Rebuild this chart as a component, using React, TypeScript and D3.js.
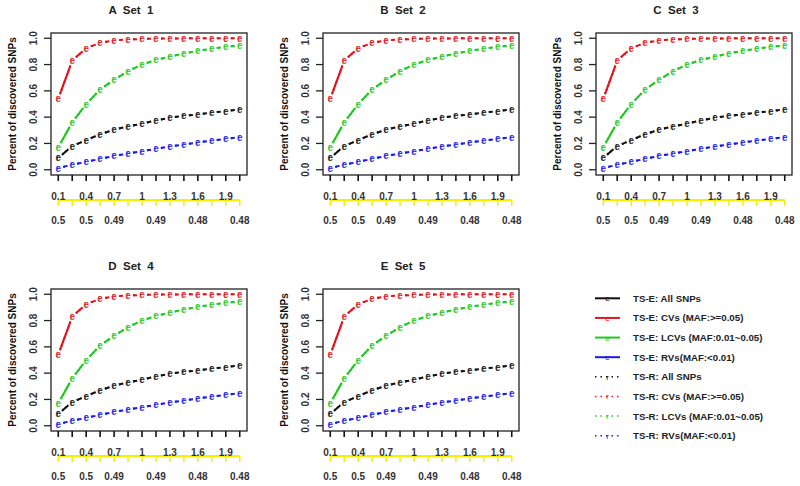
import React from "react";
import * as d3 from "d3";

const xVals = [0.1, 0.25, 0.4, 0.55, 0.7, 0.85, 1.0, 1.15, 1.3, 1.45, 1.6, 1.75, 1.9, 2.05];
const axis1Labels = ["0.1", "", "0.4", "", "0.7", "", "1", "", "1.3", "", "1.6", "", "1.9", ""];
const axis2Labels = ["0.5", "", "0.5", "", "0.49", "", "", "0.49", "", "", "0.48", "", "", "0.48"];
const yTicks = [0, 0.2, 0.4, 0.6, 0.8, 1.0];
const yTickLabels = ["0.0", "0.2", "0.4", "0.6", "0.8", "1.0"];

// TS-E values
const allSNPsE = [0.09, 0.18, 0.225, 0.27, 0.305, 0.33, 0.35, 0.375, 0.395, 0.41, 0.42, 0.435, 0.445, 0.46];
const cvsE = [0.54, 0.83, 0.925, 0.965, 0.985, 0.99, 0.995, 0.997, 0.998, 0.999, 1, 1, 1, 1];
const lcvsE = [0.17, 0.36, 0.5, 0.61, 0.685, 0.75, 0.8, 0.835, 0.86, 0.885, 0.905, 0.92, 0.935, 0.945];
const rvsE = [0.013, 0.038, 0.06, 0.083, 0.105, 0.123, 0.142, 0.158, 0.177, 0.192, 0.208, 0.222, 0.235, 0.248];
// TS-R values (overlap TS-E)
const allSNPsR = [0.09, 0.18, 0.225, 0.27, 0.305, 0.33, 0.35, 0.375, 0.395, 0.41, 0.42, 0.435, 0.445, 0.46];
const cvsR = [0.54, 0.83, 0.925, 0.965, 0.985, 0.99, 0.995, 0.997, 0.998, 0.999, 1, 1, 1, 1];
const lcvsR = [0.17, 0.36, 0.5, 0.61, 0.685, 0.75, 0.8, 0.835, 0.86, 0.885, 0.905, 0.92, 0.935, 0.945];
const rvsR = [0.013, 0.038, 0.06, 0.083, 0.105, 0.123, 0.142, 0.158, 0.177, 0.192, 0.208, 0.222, 0.235, 0.248];

const panelTitles = ["A  Set  1", "B  Set  2", "C  Set  3", "D  Set  4", "E  Set  5"];

const legendLabels = [
  "TS-E: All SNPs",
  "TS-E: CVs (MAF:>=0.05)",
  "TS-E: LCVs (MAF:0.01~0.05)",
  "TS-E: RVs(MAF:<0.01)",
  "TS-R: All SNPs",
  "TS-R: CVs (MAF:>=0.05)",
  "TS-R: LCVs (MAF:0.01~0.05)",
  "TS-R: RVs(MAF:<0.01)",
];

const COLORS = ["#111111", "#e0141c", "#1fc81f", "#1a1ae6"];
const FONT = "'Liberation Sans', Arial, sans-serif";

const seriesE = [allSNPsE, cvsE, lcvsE, rvsE];
const seriesR = [allSNPsR, cvsR, lcvsR, rvsR];

const panels = [
  { left: 51, top: 33 },
  { left: 323, top: 33 },
  { left: 596, top: 33 },
  { left: 51, top: 289 },
  { left: 323, top: 289 },
];
const W = 196;
const H = 142;

function gappedSegments(pts: [number, number][], gap: number) {
  const segs: [number, number, number, number][] = [];
  for (let i = 0; i < pts.length - 1; i++) {
    const [x1, y1] = pts[i];
    const [x2, y2] = pts[i + 1];
    const dx = x2 - x1, dy = y2 - y1;
    const len = Math.hypot(dx, dy);
    if (len <= 2 * gap) continue;
    const ux = dx / len, uy = dy / len;
    segs.push([x1 + ux * gap, y1 + uy * gap, x2 - ux * gap, y2 - uy * gap]);
  }
  return segs;
}

function Panel({ idx }: { idx: number }) {
  const { left, top } = panels[idx];
  const ext = (xVals[xVals.length - 1] - xVals[0]) * 0.04;
  const x = d3.scaleLinear().domain([xVals[0] - ext, xVals[xVals.length - 1] + ext]).range([left, left + W]);
  const y = d3.scaleLinear().domain([-0.04, 1.04]).range([top + H, top]);
  const bottom = top + H;
  const yAx2 = bottom + 25;
  return (
    <g>
      <text x={left + 80} y={top - 19} textAnchor="middle" fontFamily={FONT} fontWeight="bold" fontSize={11.5} fill="#222" style={{ whiteSpace: "pre" }}>
        {panelTitles[idx]}
      </text>
      <rect x={left} y={top} width={W} height={H} fill="none" stroke="#222" strokeWidth={1.3} />
      {yTicks.map((v, i) => (
        <g key={"y" + i}>
          <line x1={left} x2={left - 7} y1={y(v)} y2={y(v)} stroke="#222" strokeWidth={1.3} />
          <text transform={`translate(${left - 14},${y(v)}) rotate(-90)`} textAnchor="middle" fontFamily={FONT} fontWeight="bold" fontSize={10} fill="#333">
            {yTickLabels[i]}
          </text>
        </g>
      ))}
      <text transform={`translate(${left - 35.5},${top + H / 2}) rotate(-90)`} textAnchor="middle" fontFamily={FONT} fontWeight="bold" fontSize={10} fill="#111">
        Percent of discovered SNPs
      </text>
      {xVals.map((v, i) => (
        <line key={"xt" + i} x1={x(v)} x2={x(v)} y1={bottom} y2={bottom + 6} stroke="#111" strokeWidth={1.6} />
      ))}
      <line x1={x(xVals[0])} x2={x(xVals[xVals.length - 1])} y1={yAx2} y2={yAx2} stroke="#f4f000" strokeWidth={2} />
      {xVals.map((v, i) => (
        <line key={"x2t" + i} x1={x(v)} x2={x(v)} y1={yAx2} y2={yAx2 + 6} stroke="#f4f000" strokeWidth={1.5} />
      ))}
      {xVals.map((v, i) =>
        axis1Labels[i] ? (
          <text key={"xl" + i} x={x(v)} y={bottom + 25} textAnchor="middle" fontFamily={FONT} fontWeight="bold" fontSize={10} fill="#333">
            {axis1Labels[i]}
          </text>
        ) : null
      )}
      {xVals.map((v, i) =>
        axis2Labels[i] ? (
          <text key={"xl2" + i} x={x(v)} y={bottom + 49} textAnchor="middle" fontFamily={FONT} fontWeight="bold" fontSize={10} fill="#333">
            {axis2Labels[i]}
          </text>
        ) : null
      )}
      {seriesE.map((s, si) => {
        const pts = s.map((v, i) => [x(xVals[i]), y(v)] as [number, number]);
        return gappedSegments(pts, 5).map((sg, k) => (
          <line key={"e" + si + "-" + k} x1={sg[0]} y1={sg[1]} x2={sg[2]} y2={sg[3]} stroke={COLORS[si]} strokeWidth={2} />
        ));
      })}
      {seriesR.map((s, si) => {
        const pts = s.map((v, i) => [x(xVals[i]), y(v)] as [number, number]);
        return gappedSegments(pts, 5).map((sg, k) => (
          <line key={"r" + si + "-" + k} x1={sg[0]} y1={sg[1]} x2={sg[2]} y2={sg[3]} stroke={COLORS[si]} strokeWidth={2} strokeDasharray="2,2" />
        ));
      })}
      {seriesE.map((s, si) =>
        s.map((v, i) => (
          <text key={"me" + si + "-" + i} x={x(xVals[i])} y={y(v) + 3.5} textAnchor="middle" fontFamily={FONT} fontWeight="bold" fontSize={10} fill={COLORS[si]} opacity={0.85}>
            e
          </text>
        ))
      )}
      {seriesR.map((s, si) =>
        s.map((v, i) => (
          <text key={"mr" + si + "-" + i} x={x(xVals[i]) - 0.5} y={y(v) + 3.5} textAnchor="middle" fontFamily={FONT} fontSize={10} fill={COLORS[si]} opacity={0.6}>
            r
          </text>
        ))
      )}
    </g>
  );
}

function Legend() {
  const x0 = 595, x1 = 620, tx = 633;
  const ry = d3.scaleLinear().domain([0, 7]).range([298.3, 435.7]);
  return (
    <g>
      {legendLabels.map((lab, i) => {
        const c = COLORS[i % 4];
        const isE = i < 4;
        const yy = ry(i);
        return (
          <g key={"lg" + i}>
            <line x1={x0} x2={x1} y1={yy} y2={yy} stroke={c} strokeWidth={isE ? 2 : 1.6} strokeDasharray={isE ? undefined : "1.5,4"} />
            <text x={(x0 + x1) / 2} y={yy + 3} textAnchor="middle" fontFamily={FONT} fontSize={8} fill={c}>
              {isE ? "e" : "r"}
            </text>
            <text x={tx} y={yy + 3.5} fontFamily={FONT} fontWeight="bold" fontSize={9.7} fill="#222">
              {lab}
            </text>
          </g>
        );
      })}
    </g>
  );
}

export default function App() {
  return (
    <svg width={800} height={486} style={{ position: "absolute", left: 0, top: 0, background: "#fff" }}>
      <rect x={0} y={0} width={800} height={486} fill="#fff" />
      {panels.map((_, i) => (
        <Panel key={i} idx={i} />
      ))}
      <Legend />
    </svg>
  );
}
